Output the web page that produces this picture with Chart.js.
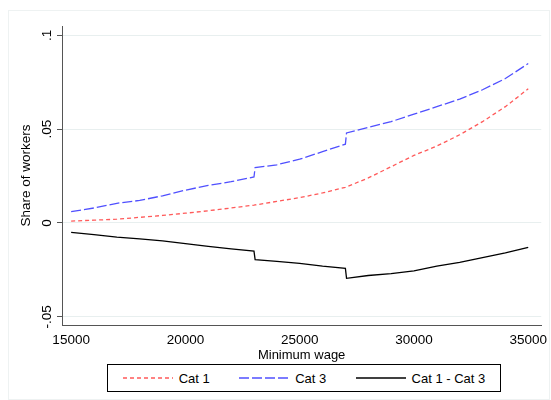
<!DOCTYPE html>
<html>
<head>
<meta charset="utf-8">
<script src="https://cdn.jsdelivr.net/npm/chart.js"></script>
<style>
  body { margin: 0; background: #fff; font-family: "Liberation Sans", Arial, sans-serif; }
  #wrap { position: absolute; left: 8px; top: 10px; width: 540px; height: 388px; border: 1px solid #eef2f2; }
  #cv { position: absolute; left: 0; top: 0; }
  #legend { position: absolute; left: 98px; top: 353px; width: 392px; height: 26px; border: 1px solid #000;
            display: flex; align-items: center; justify-content: space-around; font-size: 13px; }
  #legend span { display: inline-flex; align-items: center; }
  #legend svg { margin-right: 6px; }
</style>
</head>
<body>
<div id="wrap">
  <canvas id="cv" width="540" height="352"></canvas>
  <div id="legend">
    <span><svg width="50" height="4"><line x1="0" y1="2" x2="50" y2="2" stroke="#ff5a5a" stroke-width="1.5" stroke-dasharray="4,3"/></svg>Cat 1</span>
    <span><svg width="50" height="4"><line x1="0" y1="2" x2="50" y2="2" stroke="#5050ff" stroke-width="1.5" stroke-dasharray="10,3"/></svg>Cat 3</span>
    <span><svg width="50" height="4"><line x1="0" y1="2" x2="50" y2="2" stroke="#000" stroke-width="1.5"/></svg>Cat 1 - Cat 3</span>
  </div>
</div>
<script>
const wages = [15000,16000,17000,18000,19000,20000,21000,22000,23000,23050,24000,25000,26000,27000,27050,28000,29000,30000,31000,32000,33000,34000,35000];
const cat1  = [.001,.0015,.002,.003,.004,.0052,.0065,.008,.0095,.0096,.0115,.0135,.016,.019,.0192,.024,.030,.036,.041,.047,.054,.062,.0715];
const cat3  = [.006,.008,.0105,.012,.0145,.0175,.020,.022,.0245,.0295,.031,.034,.038,.042,.048,.051,.054,.058,.062,.066,.071,.077,.085];
const diff  = [-.005,-.0062,-.0075,-.0085,-.0095,-.011,-.0125,-.0138,-.015,-.0195,-.0205,-.0215,-.023,-.0242,-.0295,-.028,-.027,-.0255,-.023,-.021,-.0185,-.016,-.013];
const yTicks = [-0.05, 0, 0.05, 0.1];
const yTickLabels = ['-.05', '0', '.05', '.1'];
const xTicks = [15000, 20000, 25000, 30000, 35000];

const pts = s => wages.map((w, i) => ({x: w, y: s[i]}));

// y tick labels and title drawn rotated (reading bottom to top)
const yLabels = {
  id: 'yLabels',
  afterDraw(chart) {
    const c = chart.ctx, y = chart.scales.y;
    c.save();
    c.fillStyle = '#000';
    c.font = '13.5px "Liberation Sans", Arial, sans-serif';
    c.textAlign = 'center';
    c.textBaseline = 'bottom';
    yTicks.forEach((v, i) => {
      c.save();
      c.translate(chart.chartArea.left - 8, y.getPixelForValue(v));
      c.rotate(-Math.PI / 2);
      c.fillText(yTickLabels[i], 0, 0);
      c.restore();
    });
    c.translate(24, (y.top + y.bottom) / 2);
    c.rotate(-Math.PI / 2);
    c.fillText('Share of workers', 0, 0);
    c.restore();
  }
};

new Chart(document.getElementById('cv'), {
  type: 'line',
  data: {
    datasets: [
      { label: 'Cat 1', data: pts(cat1), borderColor: '#ff5a5a', borderDash: [4, 3], borderWidth: 1.3, pointRadius: 0 },
      { label: 'Cat 3', data: pts(cat3), borderColor: '#5050ff', borderDash: [10, 3], borderWidth: 1.3, pointRadius: 0 },
      { label: 'Cat 1 - Cat 3', data: pts(diff), borderColor: '#000', borderWidth: 1.3, pointRadius: 0 }
    ]
  },
  options: {
    responsive: false, animation: false,
    layout: { padding: { left: 48, right: 0, top: 15 } },
    plugins: { legend: { display: false }, tooltip: { enabled: false } },
    scales: {
      x: {
        type: 'linear', min: 14600, max: 35570,
        afterBuildTicks: a => { a.ticks = xTicks.map(v => ({value: v})); },
        ticks: { color: '#000', font: { size: 13.5 }, callback: v => String(v), maxRotation: 0, padding: 2 },
        grid: { display: false, drawTicks: true, tickLength: 5 },
        border: { color: '#555' },
        title: { display: true, text: 'Minimum wage', color: '#000', font: { size: 13 }, padding: { top: -3, bottom: 0 } }
      },
      y: {
        min: -0.0545, max: 0.105,
        afterBuildTicks: a => { a.ticks = yTicks.map(v => ({value: v})); },
        ticks: { display: false },
        grid: { color: '#e8efef', tickLength: 5, tickColor: '#555' },
        border: { color: '#555' }
      }
    }
  },
  plugins: [yLabels]
});
</script>
</body>
</html>
